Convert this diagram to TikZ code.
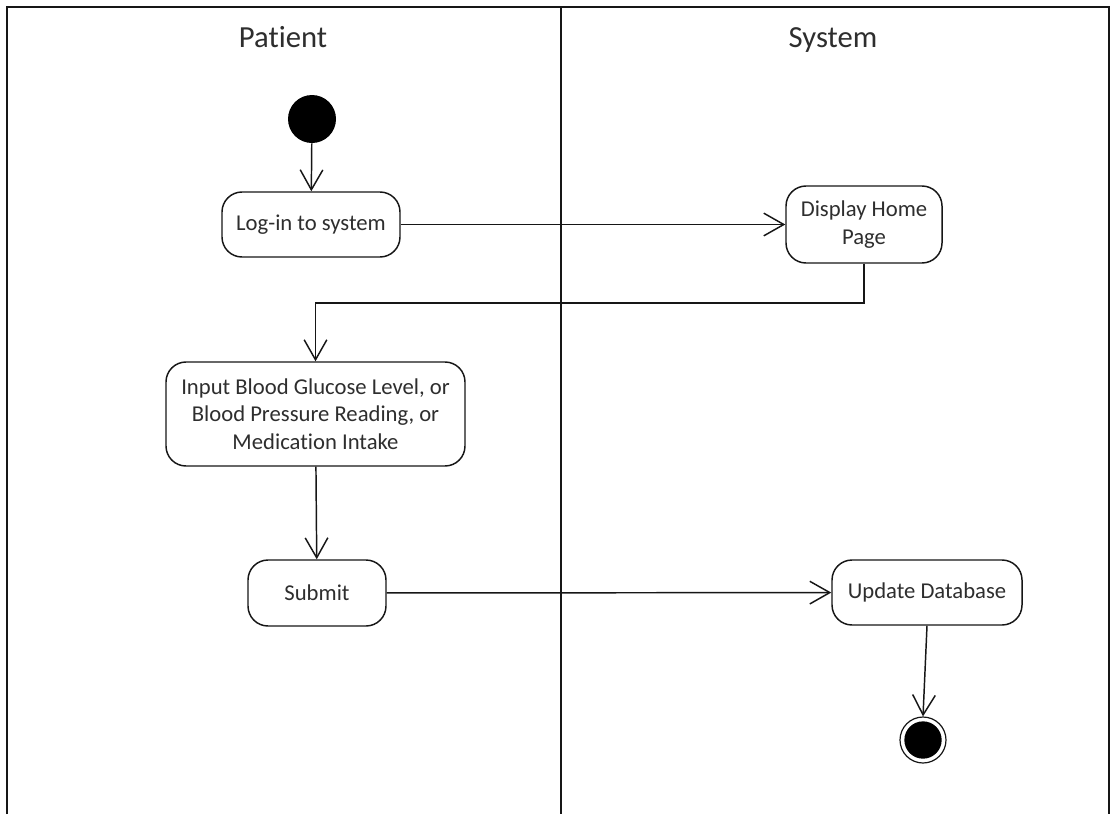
\documentclass[tikz,border=0pt]{standalone}
\usepackage{fontspec}
\setmainfont{Carlito}[Ligatures=NoCommon]
\usetikzlibrary{arrows.meta}
\definecolor{ink}{HTML}{161616}
\definecolor{txt}{HTML}{2E2E2E}
\tikzset{
  act/.style={draw=ink, line width=1.1pt, rounded corners=15pt, fill=white, inner sep=0pt,
    align=center, text=txt, font=\fontsize{17}{20.8}\selectfont},
  arr/.style={draw=ink, line width=1.1pt, -{Straight Barb[length=15pt,width=17pt,line width=1.1pt]}},
  lane/.style={draw=ink, line width=1.3pt},
  title/.style={text=txt, font=\fontsize{23}{27}\selectfont, inner sep=0pt, anchor=base},
}
\begin{document}
\begin{tikzpicture}[x=0.75pt,y=-0.75pt]
\useasboundingbox (0,0) rectangle (1112,814);
\fill[white] (0,0) rectangle (1112,814);
% swimlanes
\draw[lane] (7,814) -- (7,7) -- (1109,7) -- (1109,814);
\draw[lane] (561,7) -- (561,814);
\node[title] (tpat) at (283,47) {Patient};
\node[title] (tsys) at (833,47) {System};
% nodes
\node[circle, fill=black, minimum size=36pt, inner sep=0pt] (start) at (312,119) {};
\node[act, minimum width=133.5pt, minimum height=48.75pt] (login) at (311,224.5) {Log-in to system};
\node[act, minimum width=117pt, minimum height=57.75pt] (display) at (864,224.5) {Display Home\\Page};
\node[act, minimum width=224.25pt, minimum height=78pt] (input) at (315.5,414) {Input Blood Glucose Level, or\\Blood Pressure Reading, or\\Medication Intake};
\node[act, minimum width=103.5pt, minimum height=49.5pt] (submit) at (317,593) {Submit};
\node[act, minimum width=142.5pt, minimum height=48.75pt] (update) at (927,592.5) {Update Database};
\node[circle, draw=ink, line width=0.9pt, fill=white, minimum size=34.5pt, inner sep=0pt] (end) at (923,740) {};
\node[circle, fill=black, minimum size=28pt, inner sep=0pt] (endin) at (end.center) {};
% connectors
\coordinate (c1) at (864,303);
\coordinate (c2) at (315.5,303);
\draw[arr] (start) -- (login);
\draw[arr] (login) -- (display);
\draw[arr] (display.south) -- (c1) -- (c2) -- (input.north);
\draw[arr] (input) -- (submit);
\draw[arr] (submit) -- (update);
\draw[arr] (update.south) -- (end.north);
\end{tikzpicture}
\end{document}
